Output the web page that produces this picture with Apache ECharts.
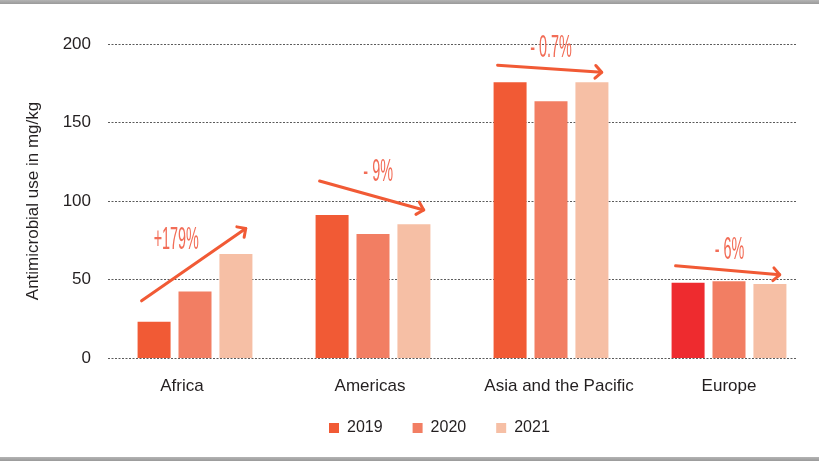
<!DOCTYPE html>
<html>
<head>
<meta charset="utf-8">
<script src="https://cdn.jsdelivr.net/npm/echarts@6/dist/echarts.min.js"></script>
<style>
  html, body { margin: 0; padding: 0; background: #fff; }
  #wrap { position: relative; width: 819px; height: 461px; overflow: hidden; }
  #chart { width: 819px; height: 461px; }
  .edge { position: absolute; left: 0; width: 819px; height: 4px; background: linear-gradient(#b4b4b4, #9a9a9a); }
</style>
</head>
<body>
<div id="wrap">
  <div id="chart"></div>
  <div class="edge" style="top:0"></div>
  <div class="edge" style="top:457px"></div>
</div>
<script>
// data
var categories = ['Africa', 'Americas', 'Asia and the Pacific', 'Europe'];
var years = ['2019', '2020', '2021'];
var use2019 = [23.1, 91.1, 175.7, 47.9];
var use2020 = [42.3, 79.0, 163.6, 48.9];
var use2021 = [66.3, 85.2, 175.7, 47.2];
var yTicks = [0, 50, 100, 150, 200];

// change annotations: label, arrow start value, arrow end value
var changeLabels = ['+179%', '- 9%', '- 0.7%', '- 6%'];
var arrowFrom = [36.4, 112.7, 186.5, 58.7];
var arrowTo = [82.5, 94.3, 182.0, 53.0];

var colors = ['#F15A35', '#F27E63', '#F6BFA5'];
var europe2019Color = '#EE2B2F';
var arrowColor = '#F15A35';
var textColor = '#231f20';
var font = '"Liberation Sans", Arial, sans-serif';

// the category names in the original are not exactly centred under their bars (px)
var labelNudge = [-13, -3, 8, 0];

var chart = echarts.init(document.getElementById('chart'));

var yMin = yTicks[0], yMax = yTicks[yTicks.length - 1], yStep = yTicks[1] - yTicks[0];

function renderArrow(params, api) {
    var band = api.size([1, 0])[0];
    var p0 = api.coord([api.value(0), api.value(1)]);
    var p1 = api.coord([api.value(0), api.value(2)]);
    var x0 = p0[0] - band * 0.3, y0 = p0[1];
    var x1 = p1[0] + band * 0.285, y1 = p1[1];
    var ang = Math.atan2(y1 - y0, x1 - x0);
    var len = 9, spread = Math.PI / 4;
    var a1 = [x1 - len * Math.cos(ang - spread), y1 - len * Math.sin(ang - spread)];
    var a2 = [x1 - len * Math.cos(ang + spread), y1 - len * Math.sin(ang + spread)];
    // label sits above the middle of the arrow, perpendicular to it
    var mx = (x0 + x1) / 2, my = (y0 + y1) / 2;
    var d = 19 + 20 * Math.abs(Math.sin(ang));
    var tx = mx + d * Math.sin(ang), ty = my - d * Math.cos(ang);
    var lineStyle = { stroke: arrowColor, lineWidth: 3, lineCap: 'round', lineJoin: 'round', fill: null };
    return {
        type: 'group',
        children: [
            { type: 'line', shape: { x1: x0, y1: y0, x2: x1, y2: y1 }, style: lineStyle },
            { type: 'polyline', shape: { points: [a1, [x1, y1], a2] }, style: lineStyle },
            {
                type: 'text', x: tx, y: ty, scaleX: 0.45, scaleY: 1,
                style: {
                    x: 0, y: 0,
                    text: changeLabels[params.dataIndex],
                    fill: '#F26D57',
                    font: '32px "Liberation Sans Narrow", "Liberation Sans", sans-serif',
                    align: 'center', verticalAlign: 'middle'
                }
            }
        ]
    };
}

// one rich style per category, padded on one side to shift the name
var labelRich = {};
labelNudge.forEach(function(n, i) {
    labelRich['n' + i] = {
        fontFamily: font, fontSize: 17, color: textColor,
        padding: n < 0 ? [0, -2 * n, 0, 0] : [0, 0, 0, 2 * n]
    };
});

var option = {
    animation: false,
    grid: [
        { left: 108, right: 22, top: 44, bottom: 103 },
        { left: 106, right: 1, top: 44, bottom: 103 }
    ],
    legend: {
        data: years,
        left: 324, top: 415,
        icon: 'rect', itemWidth: 10, itemHeight: 10, itemGap: 30,
        textStyle: { fontFamily: font, fontSize: 16, color: textColor, padding: [0, 0, 0, 3] }
    },
    xAxis: [
        // only there so the gridline axis has a partner
        { gridIndex: 0, type: 'value', show: false, min: 0, max: 1 },
        {
            gridIndex: 1, type: 'category', data: categories,
            axisLine: { show: false }, axisTick: { show: false },
            axisLabel: {
                interval: 0, fontFamily: font, fontSize: 17, color: textColor, margin: 20,
                formatter: function(v, i) { return '{n' + i + '|' + v + '}'; },
                rich: labelRich
            }
        }
    ],
    yAxis: [
        {
            gridIndex: 0, type: 'value', min: yMin, max: yMax, interval: yStep,
            name: 'Antimicrobial use in mg/kg', nameLocation: 'middle', nameGap: 66,
            nameTextStyle: { fontFamily: font, fontSize: 17, color: textColor },
            axisLine: { show: false }, axisTick: { show: false },
            axisLabel: { fontFamily: font, fontSize: 17, color: textColor, margin: 17 },
            splitLine: { show: true, lineStyle: { color: '#5a5a5a', width: 1, type: [2, 1.5] } }
        },
        { gridIndex: 1, type: 'value', min: yMin, max: yMax, show: false, splitLine: { show: false } }
    ],
    series: [
        {
            name: years[0], type: 'bar', xAxisIndex: 1, yAxisIndex: 1,
            barWidth: 33, barGap: '24%', itemStyle: { color: colors[0] },
            data: use2019.map(function(v, i) {
                return categories[i] === 'Europe' ? { value: v, itemStyle: { color: europe2019Color } } : v;
            })
        },
        {
            name: years[1], type: 'bar', xAxisIndex: 1, yAxisIndex: 1,
            barWidth: 33, barGap: '24%', itemStyle: { color: colors[1] }, data: use2020
        },
        {
            name: years[2], type: 'bar', xAxisIndex: 1, yAxisIndex: 1,
            barWidth: 33, barGap: '24%', itemStyle: { color: colors[2] }, data: use2021
        },
        {
            type: 'custom', xAxisIndex: 1, yAxisIndex: 1, silent: true, z: 5,
            renderItem: renderArrow,
            data: categories.map(function(c, i) { return [i, arrowFrom[i], arrowTo[i]]; })
        }
    ]
};

chart.setOption(option);
</script>
</body>
</html>
